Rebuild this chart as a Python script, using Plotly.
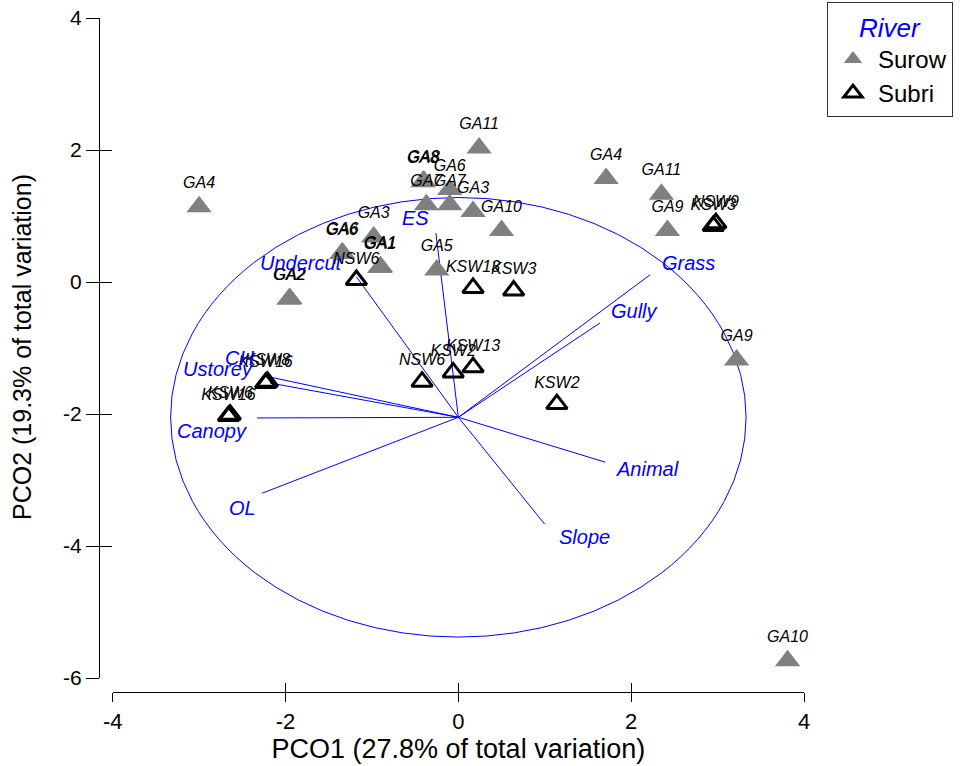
import plotly.graph_objects as go

# ---------------- data ----------------
surow_labels = ["GA4", "GA11", "GA8", "GA8", "GA6", "GA7", "GA7", "GA3", "GA10", "GA3",
                "GA6", "GA6", "GA1", "GA1", "GA5", "GA2", "GA2", "GA4", "GA11", "GA9",
                "GA9", "GA10"]
surow_x = [-3.00, 0.24, -0.41, -0.40, -0.10, -0.37, -0.10, 0.17, 0.50, -0.98,
           -1.35, -1.34, -0.91, -0.90, -0.25, -1.96, -1.95, 1.71, 2.35, 2.42,
           3.22, 3.81]
surow_y = [1.14, 2.03, 1.52, 1.53, 1.40, 1.17, 1.17, 1.07, 0.78, 0.68,
           0.43, 0.44, 0.22, 0.23, 0.18, -0.26, -0.25, 1.57, 1.33, 0.78,
           -1.18, -5.74]

subri_labels = ["NSW6", "KSW13", "KSW3", "NSW9", "KSW3", "KSW2", "NSW6", "KSW2",
                "KSW13", "KSW16", "KSW8", "KSW16", "KSW6"]
subri_x = [-1.18, 0.17, 0.64, 2.98, 2.95, 1.14, -0.42, -0.06,
           0.17, -2.23, -2.21, -2.66, -2.64]
subri_y = [0.03, -0.09, -0.13, 0.89, 0.85, -1.85, -1.51, -1.37,
           -1.29, -1.53, -1.51, -2.03, -2.01]

vec_names = ["ES", "Undercut", "Grass", "Gully", "CH", "Ustorey", "Canopy", "OL", "Slope", "Animal"]
vec_x = [-0.26, -1.18, 2.22, 1.64, -2.18, -2.18, -2.33, -2.27, 1.00, 1.70]
vec_y = [0.74, 0.08, 0.11, -0.62, -1.44, -1.53, -2.06, -3.20, -3.67, -2.73]
vec_origin = (0.0, -2.05)
circle_radius = 3.33

x_ticks = [-4, -2, 0, 2, 4]
x_ticktext = ["-4", "-2", "0", "2", "4"]
y_ticks = [-6, -4, -2, 0, 2, 4]
y_ticktext = ["-6", "-4", "-2", "0", "2", "4"]

x_title = "PCO1 (27.8% of total variation)"
y_title = "PCO2 (19.3% of total variation)"

# ---------------- style ----------------
FONT = "Liberation Sans, Arial, sans-serif"
BLUE = "#0000FF"
W, H = 964, 766
# label offsets (pixels) for vector labels
vec_label_shift = {
    "ES": (-20, 15), "Undercut": (-55, 14), "Grass": (38, 12), "Gully": (34, 12),
    "CH": (-30, 19), "Ustorey": (-52, 14), "Canopy": (-45, -13), "OL": (-20, -15),
    "Slope": (40, -13), "Animal": (42, -7),
}

x_dom = [112.7 / W, 804 / W]
y_dom = [(H - 678) / H, (H - 18) / H]
x_pos = (H - 692.3) / H
y_pos = 99 / W

fig = go.Figure()

cx, cy = vec_origin
fig.add_shape(type="circle", xref="x", yref="y",
              x0=cx - circle_radius, x1=cx + circle_radius,
              y0=cy - circle_radius, y1=cy + circle_radius,
              line=dict(color=BLUE, width=1), layer="below")

lx, ly = [], []
for ex, ey in zip(vec_x, vec_y):
    lx += [cx, ex, None]
    ly += [cy, ey, None]
fig.add_trace(go.Scatter(x=lx, y=ly, mode="lines", line=dict(color=BLUE, width=1),
                         showlegend=False, hoverinfo="skip", cliponaxis=False))

fig.add_trace(go.Scatter(
    x=surow_x, y=surow_y, mode="markers+text", text=surow_labels,
    textposition="top center", name="Surow", cliponaxis=False,
    marker=dict(symbol="triangle-up", size=22, color="#808080", line=dict(width=0)),
    textfont=dict(family=FONT, size=16, color="black", style="italic")))

fig.add_trace(go.Scatter(
    x=subri_x, y=subri_y, mode="markers+text", text=subri_labels,
    textposition="top center", name="Subri", cliponaxis=False,
    marker=dict(symbol="triangle-up-open", size=18, color="black", line=dict(width=3, color="black")),
    textfont=dict(family=FONT, size=16, color="black", style="italic")))

# overlay axes for the inner half of crossing ticks
fig.add_trace(go.Scatter(x=[], y=[], xaxis="x2", yaxis="y2", showlegend=False, hoverinfo="skip"))

for name, ex, ey in zip(vec_names, vec_x, vec_y):
    sx, sy = vec_label_shift[name]
    fig.add_annotation(x=ex, y=ey, xref="x", yref="y", text=name, showarrow=False,
                       xshift=sx, yshift=sy,
                       font=dict(family=FONT, size=20, color=BLUE, style="italic"))

# y-axis title placed as a rotated annotation to match the reference position
fig.add_annotation(x=22 / W, y=(H - 347) / H, xref="paper", yref="paper",
                   text=y_title, textangle=-90, showarrow=False,
                   xanchor="center", yanchor="middle",
                   font=dict(family=FONT, size=25, color="black"))

axis_common = dict(showgrid=False, zeroline=False, automargin=False)
fig.update_layout(
    width=W, height=H, margin=dict(l=0, r=0, t=0, b=0, autoexpand=False),
    plot_bgcolor="white", paper_bgcolor="white",
    xaxis=dict(domain=x_dom, range=[-4, 4], anchor="free", position=x_pos,
               showline=True, linecolor="black", linewidth=1,
               ticks="outside", ticklen=9, tickwidth=1, tickcolor="black",
               tickvals=x_ticks, ticktext=x_ticktext,
               tickfont=dict(family=FONT, size=22, color="black"),
               title=dict(text=x_title,
                          font=dict(family=FONT, size=27, color="black"), standoff=6),
               **axis_common),
    yaxis=dict(domain=y_dom, range=[-6, 4], anchor="free", position=y_pos,
               showline=True, linecolor="black", linewidth=1,
               ticks="outside", ticklen=13, tickwidth=1, tickcolor="black",
               tickvals=y_ticks, ticktext=y_ticktext,
               tickfont=dict(family=FONT, size=21, color="black"),
               **axis_common),
    xaxis2=dict(overlaying="x", range=[-4, 4], anchor="free", position=x_pos,
                ticks="inside", ticklen=9, tickwidth=1, tickcolor="black",
                tickvals=x_ticks, showticklabels=False, showline=False, **axis_common),
    yaxis2=dict(overlaying="y", range=[-6, 4], anchor="free", position=y_pos,
                ticks="inside", ticklen=12, tickwidth=1, tickcolor="black",
                tickvals=y_ticks, showticklabels=False, showline=False, **axis_common),
    legend=dict(x=827 / W, y=1 - 2 / H, xanchor="left", yanchor="top",
                bordercolor="#333333", borderwidth=1, bgcolor="white",
                itemwidth=40, tracegroupgap=0,
                font=dict(family=FONT, size=24, color="black"),
                title=dict(text="River", side="top center",
                           font=dict(family=FONT, size=26, color=BLUE, style="italic"))),
    showlegend=True,
)

fig.write_html("out.html")
